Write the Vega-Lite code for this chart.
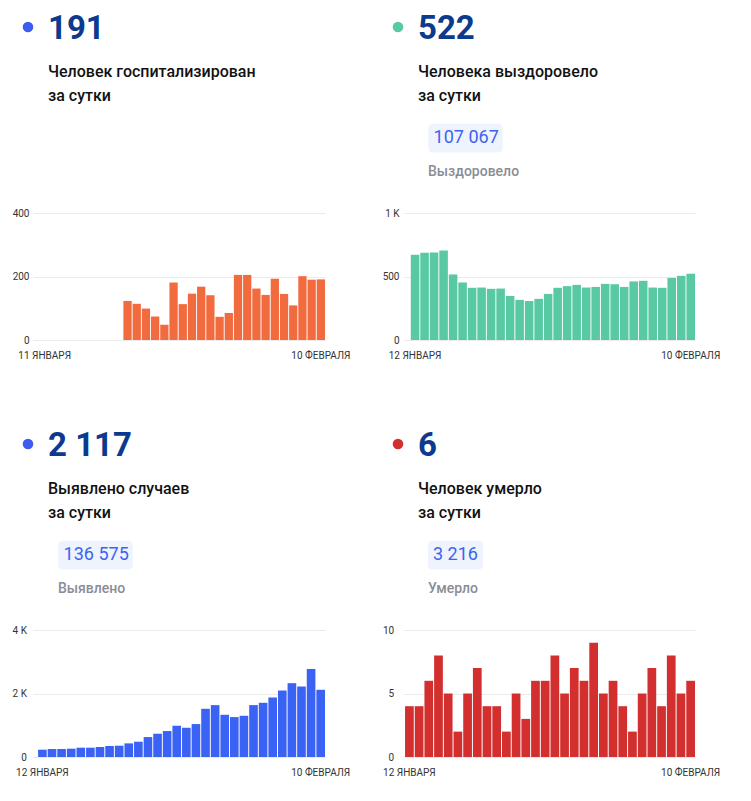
{
  "$schema": "https://vega.github.io/schema/vega-lite/v6.json",
  "padding": {"left": 12, "top": 13, "right": 5, "bottom": 5},
  "datasets": {
    "hosp": [
      {"date": "2021-01-20", "value": 123}, {"date": "2021-01-21", "value": 114}, {"date": "2021-01-22", "value": 99},
      {"date": "2021-01-23", "value": 74}, {"date": "2021-01-24", "value": 48}, {"date": "2021-01-25", "value": 181},
      {"date": "2021-01-26", "value": 113}, {"date": "2021-01-27", "value": 146}, {"date": "2021-01-28", "value": 168},
      {"date": "2021-01-29", "value": 141}, {"date": "2021-01-30", "value": 73}, {"date": "2021-01-31", "value": 85},
      {"date": "2021-02-01", "value": 205}, {"date": "2021-02-02", "value": 205}, {"date": "2021-02-03", "value": 162},
      {"date": "2021-02-04", "value": 142}, {"date": "2021-02-05", "value": 193}, {"date": "2021-02-06", "value": 145},
      {"date": "2021-02-07", "value": 109}, {"date": "2021-02-08", "value": 201}, {"date": "2021-02-09", "value": 190},
      {"date": "2021-02-10", "value": 191}
    ],
    "recov": [
      {"date": "2021-01-12", "value": 671}, {"date": "2021-01-13", "value": 687}, {"date": "2021-01-14", "value": 689},
      {"date": "2021-01-15", "value": 705}, {"date": "2021-01-16", "value": 516}, {"date": "2021-01-17", "value": 453},
      {"date": "2021-01-18", "value": 411}, {"date": "2021-01-19", "value": 413}, {"date": "2021-01-20", "value": 403},
      {"date": "2021-01-21", "value": 405}, {"date": "2021-01-22", "value": 347}, {"date": "2021-01-23", "value": 316},
      {"date": "2021-01-24", "value": 308}, {"date": "2021-01-25", "value": 324}, {"date": "2021-01-26", "value": 363},
      {"date": "2021-01-27", "value": 411}, {"date": "2021-01-28", "value": 424}, {"date": "2021-01-29", "value": 434},
      {"date": "2021-01-30", "value": 413}, {"date": "2021-01-31", "value": 418}, {"date": "2021-02-01", "value": 442},
      {"date": "2021-02-02", "value": 439}, {"date": "2021-02-03", "value": 418}, {"date": "2021-02-04", "value": 461},
      {"date": "2021-02-05", "value": 466}, {"date": "2021-02-06", "value": 413}, {"date": "2021-02-07", "value": 411},
      {"date": "2021-02-08", "value": 489}, {"date": "2021-02-09", "value": 505}, {"date": "2021-02-10", "value": 522}
    ],
    "cases": [
      {"date": "2021-01-12", "value": 230}, {"date": "2021-01-13", "value": 251}, {"date": "2021-01-14", "value": 251},
      {"date": "2021-01-15", "value": 262}, {"date": "2021-01-16", "value": 293}, {"date": "2021-01-17", "value": 293},
      {"date": "2021-01-18", "value": 314}, {"date": "2021-01-19", "value": 346}, {"date": "2021-01-20", "value": 356},
      {"date": "2021-01-21", "value": 429}, {"date": "2021-01-22", "value": 482}, {"date": "2021-01-23", "value": 628},
      {"date": "2021-01-24", "value": 733}, {"date": "2021-01-25", "value": 817}, {"date": "2021-01-26", "value": 984},
      {"date": "2021-01-27", "value": 921}, {"date": "2021-01-28", "value": 1037}, {"date": "2021-01-29", "value": 1518},
      {"date": "2021-01-30", "value": 1634}, {"date": "2021-01-31", "value": 1330}, {"date": "2021-02-01", "value": 1257},
      {"date": "2021-02-02", "value": 1298}, {"date": "2021-02-03", "value": 1634}, {"date": "2021-02-04", "value": 1707},
      {"date": "2021-02-05", "value": 1874}, {"date": "2021-02-06", "value": 2094}, {"date": "2021-02-07", "value": 2325},
      {"date": "2021-02-08", "value": 2220}, {"date": "2021-02-09", "value": 2775}, {"date": "2021-02-10", "value": 2117}
    ],
    "deaths": [
      {"date": "2021-01-12", "value": 4}, {"date": "2021-01-13", "value": 4}, {"date": "2021-01-14", "value": 6},
      {"date": "2021-01-15", "value": 8}, {"date": "2021-01-16", "value": 5}, {"date": "2021-01-17", "value": 2},
      {"date": "2021-01-18", "value": 5}, {"date": "2021-01-19", "value": 7}, {"date": "2021-01-20", "value": 4},
      {"date": "2021-01-21", "value": 4}, {"date": "2021-01-22", "value": 2}, {"date": "2021-01-23", "value": 5},
      {"date": "2021-01-24", "value": 3}, {"date": "2021-01-25", "value": 6}, {"date": "2021-01-26", "value": 6},
      {"date": "2021-01-27", "value": 8}, {"date": "2021-01-28", "value": 5}, {"date": "2021-01-29", "value": 7},
      {"date": "2021-01-30", "value": 6}, {"date": "2021-01-31", "value": 9}, {"date": "2021-02-01", "value": 5},
      {"date": "2021-02-02", "value": 6}, {"date": "2021-02-03", "value": 4}, {"date": "2021-02-04", "value": 2},
      {"date": "2021-02-05", "value": 5}, {"date": "2021-02-06", "value": 7}, {"date": "2021-02-07", "value": 4},
      {"date": "2021-02-08", "value": 8}, {"date": "2021-02-09", "value": 5}, {"date": "2021-02-10", "value": 6}
    ]
  },
  "config": {
    "view": {"stroke": null},
    "font": "Roboto",
    "axis": {"labelFont": "Roboto", "labelFontSize": 10, "labelColor": "#333333", "domain": false, "ticks": false},
    "axisY": {"grid": true, "gridColor": "#ebebeb", "gridWidth": 1},
    "axisX": {"grid": false, "labelPadding": 10, "labelAngle": 0},
    "title": {
      "anchor": "start", "frame": "group", "dx": 15, "offset": -82,
      "font": "Roboto", "fontSize": 33, "fontWeight": 700, "color": "#0b3a8e",
      "subtitleFont": "Roboto", "subtitleFontSize": 16, "subtitleFontWeight": 500, "subtitleColor": "#111111",
      "subtitleLineHeight": 23.5, "subtitlePadding": 18
    }
  },
  "columns": 2,
  "bounds": "flush",
  "spacing": {"row": 290, "column": 78},
  "resolve": {
    "scale": {"color": "independent", "shape": "independent"},
    "legend": {"color": "independent", "shape": "independent"}
  },
  "concat": [
    {
      "data": {"name": "hosp"},
      "width": 292, "height": 127,
      "title": {"text": "191", "subtitle": ["Человек госпитализирован", "за сутки"]},
      "layer": [
        {
          "mark": {"type": "bar", "color": "#f26b3f"},
          "encoding": {
            "x": {"field": "date", "type": "ordinal", "title": null,
              "scale": {"domain": ["2021-01-11","2021-01-12","2021-01-13","2021-01-14","2021-01-15","2021-01-16","2021-01-17","2021-01-18","2021-01-19","2021-01-20","2021-01-21","2021-01-22","2021-01-23","2021-01-24","2021-01-25","2021-01-26","2021-01-27","2021-01-28","2021-01-29","2021-01-30","2021-01-31","2021-02-01","2021-02-02","2021-02-03","2021-02-04","2021-02-05","2021-02-06","2021-02-07","2021-02-08","2021-02-09","2021-02-10"], "paddingInner": 0.1, "paddingOuter": 0.41, "align": 1},
              "axis": {"values": ["2021-01-11", "2021-02-10"], "labelExpr": "datum.value == '2021-02-10' ? '10 ФЕВРАЛЯ' : '11 ЯНВАРЯ'"}},
            "y": {"field": "value", "type": "quantitative", "title": null,
              "scale": {"domain": [0, 400], "nice": false},
              "axis": {"values": [0, 200, 400], "labelPadding": 4}}
          }
        },
        {
          "mark": {"type": "point", "filled": true, "opacity": 0},
          "encoding": {
            "color": {"datum": "dot", "scale": {"range": ["#3d5cf0"]},
              "legend": {"orient": "none", "legendX": -10.5, "legendY": -191.5, "title": null, "padding": 0, "symbolType": "circle", "symbolSize": 112, "symbolStrokeWidth": 0, "symbolOpacity": 1, "labelExpr": "''", "labelFontSize": 1, "labelOffset": 0}}
          }
        }
      ]
    },
    {
      "data": {"name": "recov"},
      "width": 292, "height": 127,
      "title": {"text": "522", "subtitle": ["Человека выздоровело", "за сутки"]},
      "layer": [
        {
          "mark": {"type": "bar", "color": "#58c9a2"},
          "encoding": {
            "x": {"field": "date", "type": "ordinal", "title": null,
              "scale": {"paddingInner": 0.1, "paddingOuter": 0.41, "align": 1},
              "axis": {"values": ["2021-01-12", "2021-02-10"], "labelExpr": "datum.value == '2021-02-10' ? '10 ФЕВРАЛЯ' : '12 ЯНВАРЯ'"}},
            "y": {"field": "value", "type": "quantitative", "title": null,
              "scale": {"domain": [0, 1000], "nice": false},
              "axis": {"values": [0, 500, 1000], "labelPadding": 4, "labelExpr": "datum.value >= 1000 ? (datum.value / 1000) + ' K' : datum.label"}}
          }
        },
        {
          "mark": {"type": "point", "filled": true, "opacity": 0},
          "encoding": {
            "color": {"datum": "dot", "scale": {"range": ["#58c9a2"]},
              "legend": {"orient": "none", "legendX": -10.5, "legendY": -191.5, "title": null, "padding": 0, "symbolType": "circle", "symbolSize": 112, "symbolStrokeWidth": 0, "symbolOpacity": 1, "labelExpr": "''", "labelFontSize": 1, "labelOffset": 0}}
          }
        },
        {
          "mark": {"type": "point", "filled": true, "opacity": 0, "color": "#eef3fd"},
          "encoding": {
            "shape": {"datum": "107 067", "scale": {"range": ["M-0.866,-0.386 H0.866 Q1,-0.386 1,-0.252 V0.252 Q1,0.386 0.866,0.386 H-0.866 Q-1,0.386 -1,0.252 V-0.252 Q-1,-0.386 -0.866,-0.386 Z"]},
              "legend": {"orient": "none", "legendX": 25, "legendY": -112.45, "padding": 0, "title": "Выздоровело", "titleOrient": "bottom", "titleFont": "Roboto", "titleFontSize": 14, "titleFontWeight": 500, "titleColor": "#8a8d96", "titlePadding": 12, "symbolSize": 5535, "symbolStrokeWidth": 0, "symbolOpacity": 1, "symbolFillColor": "#eef3fd", "labelOffset": -69.4, "labelFont": "Roboto", "labelFontSize": 18, "labelColor": "#3d63f2"}}
          }
        }
      ]
    },
    {
      "data": {"name": "cases"},
      "width": 292, "height": 127,
      "title": {"text": "2 117", "subtitle": ["Выявлено случаев", "за сутки"]},
      "layer": [
        {
          "mark": {"type": "bar", "color": "#3a62f5"},
          "encoding": {
            "x": {"field": "date", "type": "ordinal", "title": null,
              "scale": {"paddingInner": 0.1, "paddingOuter": 0.265, "align": 1},
              "axis": {"values": ["2021-01-12", "2021-02-10"], "labelExpr": "datum.value == '2021-02-10' ? '10 ФЕВРАЛЯ' : '12 ЯНВАРЯ'"}},
            "y": {"field": "value", "type": "quantitative", "title": null,
              "scale": {"domain": [0, 4000], "nice": false},
              "axis": {"values": [0, 2000, 4000], "labelPadding": 6.6, "labelExpr": "datum.value >= 1000 ? (datum.value / 1000) + ' K' : datum.label"}}
          }
        },
        {
          "mark": {"type": "point", "filled": true, "opacity": 0},
          "encoding": {
            "color": {"datum": "dot", "scale": {"range": ["#3d5cf0"]},
              "legend": {"orient": "none", "legendX": -10.5, "legendY": -191.5, "title": null, "padding": 0, "symbolType": "circle", "symbolSize": 112, "symbolStrokeWidth": 0, "symbolOpacity": 1, "labelExpr": "''", "labelFontSize": 1, "labelOffset": 0}}
          }
        },
        {
          "mark": {"type": "point", "filled": true, "opacity": 0, "color": "#eef3fd"},
          "encoding": {
            "shape": {"datum": "136 575", "scale": {"range": ["M-0.866,-0.386 H0.866 Q1,-0.386 1,-0.252 V0.252 Q1,0.386 0.866,0.386 H-0.866 Q-1,0.386 -1,0.252 V-0.252 Q-1,-0.386 -0.866,-0.386 Z"]},
              "legend": {"orient": "none", "legendX": 25, "legendY": -112.45, "padding": 0, "title": "Выявлено", "titleOrient": "bottom", "titleFont": "Roboto", "titleFontSize": 14, "titleFontWeight": 500, "titleColor": "#8a8d96", "titlePadding": 12, "symbolSize": 5535, "symbolStrokeWidth": 0, "symbolOpacity": 1, "symbolFillColor": "#eef3fd", "labelOffset": -69.4, "labelFont": "Roboto", "labelFontSize": 18, "labelColor": "#3d63f2"}}
          }
        }
      ]
    },
    {
      "data": {"name": "deaths"},
      "width": 292, "height": 127,
      "title": {"text": "6", "subtitle": ["Человек умерло", "за сутки"]},
      "layer": [
        {
          "mark": {"type": "bar", "color": "#d32f2f"},
          "encoding": {
            "x": {"field": "date", "type": "ordinal", "title": null,
              "scale": {"paddingInner": 0.1, "paddingOuter": 0.105, "align": 1},
              "axis": {"values": ["2021-01-12", "2021-02-10"], "labelExpr": "datum.value == '2021-02-10' ? '10 ФЕВРАЛЯ' : '12 ЯНВАРЯ'"}},
            "y": {"field": "value", "type": "quantitative", "title": null,
              "scale": {"domain": [0, 10], "nice": false},
              "axis": {"values": [0, 5, 10], "labelPadding": 9.3}}
          }
        },
        {
          "mark": {"type": "point", "filled": true, "opacity": 0},
          "encoding": {
            "color": {"datum": "dot", "scale": {"range": ["#d32f2f"]},
              "legend": {"orient": "none", "legendX": -10.5, "legendY": -191.5, "title": null, "padding": 0, "symbolType": "circle", "symbolSize": 112, "symbolStrokeWidth": 0, "symbolOpacity": 1, "labelExpr": "''", "labelFontSize": 1, "labelOffset": 0}}
          }
        },
        {
          "mark": {"type": "point", "filled": true, "opacity": 0, "color": "#eef3fd"},
          "encoding": {
            "shape": {"datum": "3 216", "scale": {"range": ["M-0.818,-0.522 H0.818 Q1,-0.522 1,-0.34 V0.34 Q1,0.522 0.818,0.522 H-0.818 Q-1,0.522 -1,0.34 V-0.34 Q-1,-0.522 -0.818,-0.522 Z"]},
              "legend": {"orient": "none", "legendX": 25, "legendY": -102.45, "padding": 0, "title": "Умерло", "titleOrient": "bottom", "titleFont": "Roboto", "titleFontSize": 14, "titleFontWeight": 500, "titleColor": "#8a8d96", "titlePadding": 12, "symbolSize": 3025, "symbolStrokeWidth": 0, "symbolOpacity": 1, "symbolFillColor": "#eef3fd", "labelOffset": -50, "labelFont": "Roboto", "labelFontSize": 18, "labelColor": "#3d63f2"}}
          }
        }
      ]
    }
  ]
}
